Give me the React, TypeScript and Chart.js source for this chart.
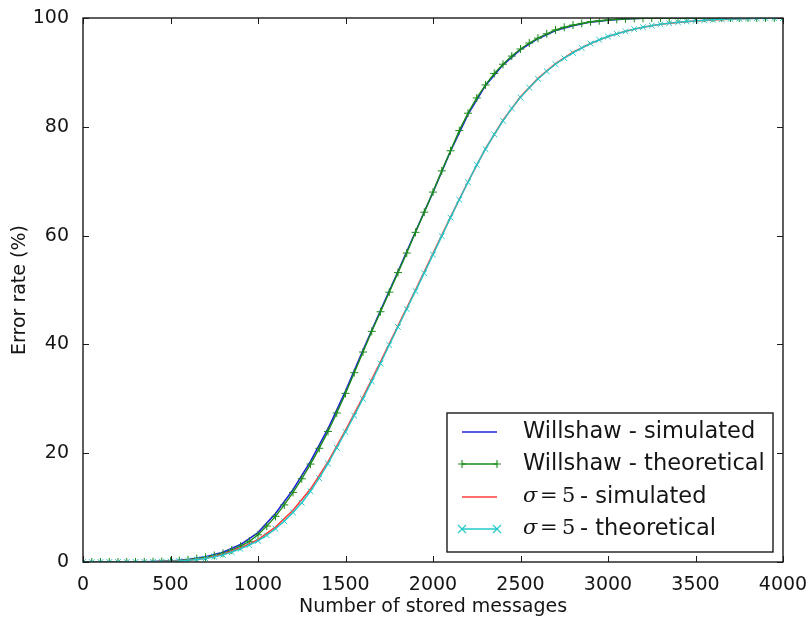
import { useEffect, useRef } from "react";
import { Chart, registerables } from "chart.js";

Chart.register(...registerables);

// Number of stored messages at which the theoretical curves are sampled
const messageCounts = [
  0, 50, 100, 150, 200, 250, 300, 350, 400, 450, 500, 550, 600, 650, 700, 750, 800, 850, 900, 950,
  1000, 1050, 1100, 1150, 1200, 1250, 1300, 1350, 1400, 1450, 1500, 1550, 1600, 1650, 1700, 1750,
  1800, 1850, 1900, 1950, 2000, 2050, 2100, 2150, 2200, 2250, 2300, 2350, 2400, 2450, 2500, 2550,
  2600, 2650, 2700, 2750, 2800, 2850, 2900, 2950, 3000, 3050, 3100, 3150, 3200, 3250, 3300, 3350,
  3400, 3450, 3500, 3550, 3600, 3650, 3700, 3750, 3800, 3850, 3900, 3950, 4000,
];

// Willshaw network, theoretical error rate (%)
const willshawTheoretical = [
  0, 0, 0, 0, 0, 0, 0.01, 0.02, 0.05, 0.1, 0.15, 0.25, 0.4, 0.6, 0.85, 1.2, 1.6, 2.2, 2.9, 3.8,
  5.0, 6.6, 8.4, 10.5, 12.8, 15.3, 18.0, 20.9, 24.0, 27.4, 31.0, 34.8, 38.6, 42.4, 46.0, 49.6,
  53.2, 56.8, 60.6, 64.3, 68.0, 71.9, 75.6, 79.3, 82.5, 85.3, 87.7, 89.8, 91.5, 93.0, 94.3, 95.4,
  96.3, 97.1, 97.8, 98.3, 98.7, 99.0, 99.3, 99.5, 99.62, 99.75, 99.85, 99.92, 99.96, 99.98, 100, 100,
  100, 100, 100, 100, 100, 100, 100, 100, 100, 100, 100, 100, 100,
];

// sigma = 5 network, theoretical error rate (%)
const sigmaTheoretical = [
  0, 0, 0, 0, 0, 0, 0.01, 0.02, 0.04, 0.07, 0.1, 0.18, 0.3, 0.45, 0.65, 0.95, 1.3, 1.8, 2.4, 3.1,
  3.9, 4.9, 6.1, 7.5, 9.1, 10.9, 13.0, 15.4, 18.1, 21.0, 23.9, 26.9, 30.0, 33.2, 36.5, 39.9,
  43.2, 46.5, 49.8, 53.1, 56.5, 59.9, 63.3, 66.6, 69.8, 73.0, 75.9, 78.6, 81.1, 83.4, 85.4, 87.2,
  88.8, 90.2, 91.5, 92.6, 93.6, 94.5, 95.3, 96.0, 96.6, 97.1, 97.55, 97.95, 98.3, 98.6, 98.85, 99.05,
  99.22, 99.36, 99.48, 99.58, 99.67, 99.75, 99.82, 99.87, 99.92, 99.95, 99.97, 99.99, 100,
];

// Simulation runs, every 100 stored messages
const simulatedCounts = [
  0, 100, 200, 300, 400, 500, 600, 700, 800, 900, 1000, 1100, 1200, 1300, 1400, 1500, 1600, 1700,
  1800, 1900, 2000, 2100, 2200, 2300, 2400, 2500, 2600, 2700, 2800, 2900, 3000, 3100, 3200, 3300,
  3400, 3500, 3600, 3700, 3800, 3900, 4000,
];

const willshawSimulated = [
  0, 0, 0, 0.01, 0.06, 0.17, 0.45, 0.95, 1.8, 3.2, 5.4, 8.9, 13.3, 18.5, 24.5, 31.4, 38.9, 46.2,
  53.4, 60.7, 68.0, 75.5, 82.3, 87.6, 91.4, 94.2, 96.2, 97.7, 98.6, 99.25, 99.6, 99.84, 99.95, 100,
  100, 100, 100, 100, 100, 100, 100,
];

const sigmaSimulated = [
  0, 0, 0, 0.01, 0.05, 0.12, 0.33, 0.7, 1.4, 2.6, 4.1, 6.4, 9.5, 13.4, 18.4, 24.2, 30.3, 36.8,
  43.4, 50.0, 56.7, 63.4, 69.9, 76.0, 81.2, 85.5, 88.9, 91.6, 93.7, 95.3, 96.6, 97.55, 98.3, 98.85,
  99.2, 99.45, 99.65, 99.8, 99.9, 99.96, 100,
];

const xTickValues = [0, 500, 1000, 1500, 2000, 2500, 3000, 3500, 4000];
const yTickValues = [0, 20, 40, 60, 80, 100];

const xAxisTitle = "Number of stored messages";
const yAxisTitle = "Error rate (%)";

const COLORS = {
  willshawSim: "#2020d8",
  willshawTheo: "#1a8c1a",
  sigmaSim: "#ff3c3c",
  sigmaTheo: "#22c8c8",
};

const SANS = '"DejaVu Sans", sans-serif';
const SERIF = '"DejaVu Serif", serif';

type LegendEntry = {
  color: string;
  marker: "none" | "plus" | "x";
  math: boolean;
  text: string;
};

const legendEntries: LegendEntry[] = [
  { color: COLORS.willshawSim, marker: "none", math: false, text: "Willshaw - simulated" },
  { color: COLORS.willshawTheo, marker: "plus", math: false, text: "Willshaw - theoretical" },
  { color: COLORS.sigmaSim, marker: "none", math: true, text: "- simulated" },
  { color: COLORS.sigmaTheo, marker: "x", math: true, text: "- theoretical" },
];

function pairs(xs: number[], ys: number[]) {
  return xs.map((x, i) => ({ x, y: ys[i] }));
}

function drawMarker(ctx: CanvasRenderingContext2D, kind: string, x: number, y: number, r: number) {
  ctx.beginPath();
  if (kind === "plus") {
    ctx.moveTo(x - r, y);
    ctx.lineTo(x + r, y);
    ctx.moveTo(x, y - r);
    ctx.lineTo(x, y + r);
  } else if (kind === "x") {
    ctx.moveTo(x - r, y - r);
    ctx.lineTo(x + r, y + r);
    ctx.moveTo(x - r, y + r);
    ctx.lineTo(x + r, y - r);
  }
  ctx.stroke();
}

// Closed frame with inward tick marks on all four sides, plus the boxed legend
const frameAndLegend = {
  id: "frameAndLegend",
  afterDraw(chart: any) {
    const { ctx, chartArea } = chart;
    const { left, right, top, bottom } = chartArea;
    const xs = chart.scales.x;
    const ys = chart.scales.y;
    const tick = 6;

    ctx.save();
    ctx.strokeStyle = "#1a1a1a";
    ctx.lineWidth = 1.4;
    ctx.strokeRect(left, top, right - left, bottom - top);

    ctx.lineWidth = 1;
    ctx.beginPath();
    for (const v of xTickValues) {
      const px = Math.round(xs.getPixelForValue(v)) + 0.5;
      ctx.moveTo(px, bottom);
      ctx.lineTo(px, bottom - tick);
      ctx.moveTo(px, top);
      ctx.lineTo(px, top + tick);
    }
    for (const v of yTickValues) {
      const py = Math.round(ys.getPixelForValue(v)) + 0.5;
      ctx.moveTo(left, py);
      ctx.lineTo(left + tick, py);
      ctx.moveTo(right, py);
      ctx.lineTo(right - tick, py);
    }
    ctx.stroke();

    // legend box in the lower right corner
    const boxW = 326;
    const boxH = 139;
    const bx = right - 10 - boxW;
    const by = bottom - 10 - boxH;
    ctx.fillStyle = "#ffffff";
    ctx.fillRect(bx, by, boxW, boxH);
    ctx.strokeStyle = "#1a1a1a";
    ctx.lineWidth = 1.4;
    ctx.strokeRect(bx, by, boxW, boxH);

    const rowY = [19, 51, 84, 116];
    legendEntries.forEach((entry, i) => {
      const y = by + rowY[i];
      const x0 = bx + 15;
      const x1 = bx + 50;
      ctx.strokeStyle = entry.color;
      ctx.lineWidth = 1.6;
      ctx.beginPath();
      ctx.moveTo(x0, y);
      ctx.lineTo(x1, y);
      ctx.stroke();
      if (entry.marker !== "none") {
        ctx.lineWidth = 1.1;
        drawMarker(ctx, entry.marker, x0, y, 4);
        drawMarker(ctx, entry.marker, x1, y, 4);
      }

      ctx.fillStyle = "#151515";
      ctx.textBaseline = "middle";
      ctx.textAlign = "left";
      const tx = bx + 76;
      if (!entry.math) {
        ctx.font = `22.5px ${SANS}`;
        ctx.fillText(entry.text, tx, y);
      } else {
        ctx.font = `italic 21px ${SERIF}`;
        ctx.fillText("σ", tx, y);
        ctx.font = `21px ${SERIF}`;
        ctx.fillText("=", tx + 17, y);
        ctx.fillText("5", tx + 39, y);
        ctx.font = `22.5px ${SANS}`;
        ctx.fillText(entry.text, tx + 57, y);
      }
    });
    ctx.restore();
  },
};

export default function App() {
  const canvasRef = useRef<HTMLCanvasElement | null>(null);

  useEffect(() => {
    const canvas = canvasRef.current;
    if (!canvas) return;

    const chart = new Chart(canvas, {
      type: "line",
      data: {
        datasets: [
          {
            label: "Willshaw - simulated",
            data: pairs(simulatedCounts, willshawSimulated),
            borderColor: COLORS.willshawSim,
            borderWidth: 1.6,
            pointRadius: 0,
            tension: 0,
            order: 4,
          },
          {
            label: "Willshaw - theoretical",
            data: pairs(messageCounts, willshawTheoretical),
            borderColor: COLORS.willshawTheo,
            backgroundColor: COLORS.willshawTheo,
            borderWidth: 1.4,
            pointStyle: "cross",
            pointRadius: 4,
            pointBorderWidth: 1,
            pointBorderColor: COLORS.willshawTheo,
            tension: 0,
            order: 3,
          },
          {
            label: "σ=5 - simulated",
            data: pairs(simulatedCounts, sigmaSimulated),
            borderColor: COLORS.sigmaSim,
            borderWidth: 1.6,
            pointRadius: 0,
            tension: 0,
            order: 2,
          },
          {
            label: "σ=5 - theoretical",
            data: pairs(messageCounts, sigmaTheoretical),
            borderColor: COLORS.sigmaTheo,
            backgroundColor: COLORS.sigmaTheo,
            borderWidth: 1.4,
            pointStyle: "crossRot",
            pointRadius: 4,
            pointBorderWidth: 1,
            pointBorderColor: COLORS.sigmaTheo,
            tension: 0,
            order: 1,
          },
        ],
      },
      options: {
        animation: false,
        responsive: true,
        maintainAspectRatio: false,
        layout: { padding: { top: 18, right: 29, left: 0, bottom: 0 } },
        plugins: {
          legend: { display: false },
          tooltip: { enabled: false },
        },
        scales: {
          x: {
            type: "linear",
            min: 0,
            max: 4000,
            grid: { display: false },
            border: { display: false },
            afterBuildTicks: (scale: any) => {
              scale.ticks = xTickValues.map((value) => ({ value }));
            },
            afterFit: (scale: any) => {
              scale.height = 62;
            },
            ticks: {
              autoSkip: false,
              maxRotation: 0,
              padding: 4,
              color: "#151515",
              font: { family: SANS, size: 19 },
              callback: (value: any) => String(value),
            },
            title: {
              display: true,
              text: xAxisTitle,
              color: "#151515",
              font: { family: SANS, size: 19 },
              padding: { top: 0, bottom: 6 },
            },
          },
          y: {
            type: "linear",
            min: 0,
            max: 100,
            grid: { display: false },
            border: { display: false },
            afterBuildTicks: (scale: any) => {
              scale.ticks = yTickValues.map((value) => ({ value }));
            },
            afterFit: (scale: any) => {
              scale.width = 83;
            },
            ticks: {
              padding: 6,
              color: "#151515",
              font: { family: SANS, size: 19 },
              callback: (value: any) => String(value),
            },
            title: {
              display: true,
              text: yAxisTitle,
              color: "#151515",
              font: { family: SANS, size: 19 },
              padding: { top: 9, bottom: 0 },
            },
          },
        },
      },
      plugins: [frameAndLegend],
    } as any);

    return () => chart.destroy();
  }, []);

  return (
    <div style={{ position: "absolute", left: 0, top: 0, width: 812, height: 624, background: "#fff" }}>
      <canvas ref={canvasRef} />
    </div>
  );
}
